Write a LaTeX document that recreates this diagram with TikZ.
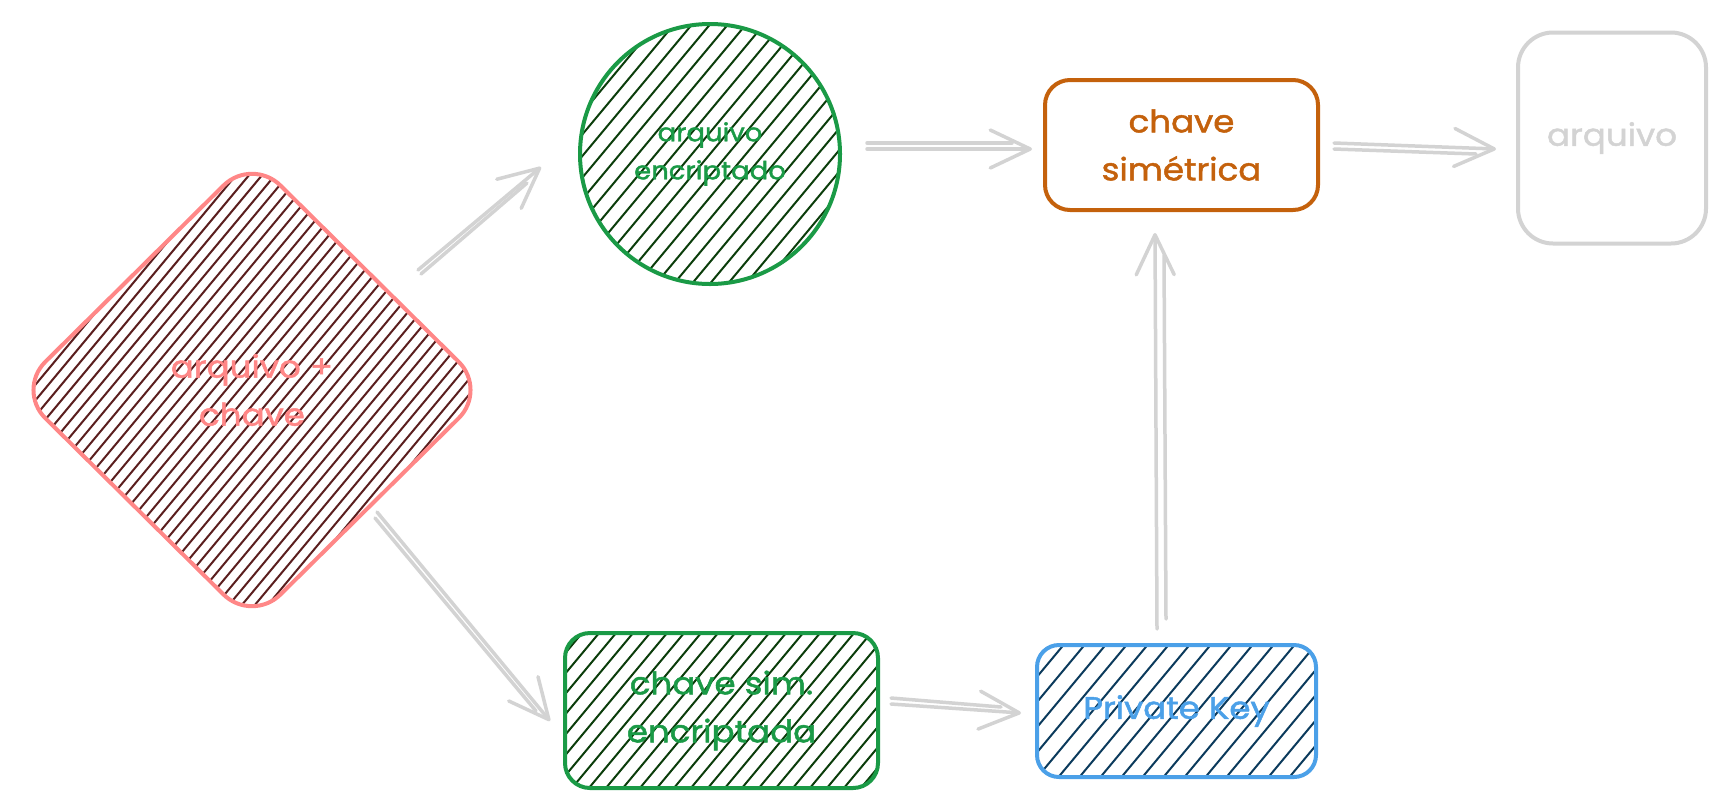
\documentclass[tikz,border=0pt]{standalone}
\usepackage{fontspec}
\newfontfamily\hand[FakeStretch=1.1,FakeBold=1.6]{Poppins}
\usetikzlibrary{arrows.meta,shapes.geometric}
\definecolor{redc}{HTML}{FF8787}
\definecolor{maroon}{HTML}{5A1E1E}
\definecolor{greenc}{HTML}{1A9A46}
\definecolor{dgreen}{HTML}{0B3D0B}
\definecolor{orangec}{HTML}{C4610C}
\definecolor{grayc}{HTML}{D3D3D3}
\definecolor{bluec}{HTML}{4BA0E8}
\definecolor{dblue}{HTML}{0B3A5C}
\begin{document}
\begin{tikzpicture}[x=1pt,y=-1pt,
  hatchfill/.style 2 args={path picture={
    \foreach \k in {-40,...,40}
      \draw[#1,line width=2pt]
        ([shift={(\k*#2-300,360)}]path picture bounding box.center) -- ++(600,-720);}},
  shapebox/.style={line width=4pt, inner sep=0pt, align=center},
  bigtext/.style={font=\hand\fontsize{31}{48}\selectfont},
  smalltext/.style={font=\hand\fontsize{25}{38}\selectfont},
  arr/.style={draw=grayc, line width=3.5pt, line cap=round, line join=round,
    -{Straight Barb[length=40pt,width=38pt,round]}},
  arrb/.style={draw=grayc, line width=3.5pt, line cap=round},
]
\useasboundingbox (0,0) rectangle (1726,807);

% shapes
\node[shapebox, shape=diamond, draw=redc, rounded corners=40pt,
  minimum width=472pt, minimum height=467pt, hatchfill={maroon}{13},
  text=redc, bigtext] (dia) at (252,390) {arquivo +\\chave};
\node[shapebox, circle, draw=greenc, minimum size=260pt,
  hatchfill={dgreen}{18}, text=greenc, smalltext] (circ) at (710,154)
  {arquivo\\encriptado};
\node[shapebox, rectangle, draw=orangec, rounded corners=25pt,
  minimum width=273pt, minimum height=130pt, text=orangec, bigtext]
  (sim) at (1181.5,145) {chave\\simétrica};
\node[shapebox, rectangle, draw=grayc, rounded corners=35pt,
  minimum width=188pt, minimum height=211pt, text=grayc, bigtext]
  (arq) at (1612,138) {arquivo};
\node[shapebox, rectangle, draw=greenc, rounded corners=25pt,
  minimum width=313pt, minimum height=155pt, hatchfill={dgreen}{17},
  text=greenc, bigtext] (enc) at (721.5,710.5) {chave sim.\\encriptada};
\node[shapebox, rectangle, draw=bluec, rounded corners=22pt,
  minimum width=279pt, minimum height=132pt, hatchfill={dblue}{21},
  text=bluec, bigtext] (pk) at (1176.5,711) {Private Key};

% connector end points
\coordinate (a1s) at (418,270); \coordinate (a1e) at (541,167);
\coordinate (a2s) at (377,512); \coordinate (a2e) at (550,721);
\coordinate (a3s) at (867,149); \coordinate (a3e) at (1032,149);
\coordinate (a4s) at (1334,143); \coordinate (a4e) at (1496,149);
\coordinate (a5s) at (891,704); \coordinate (a5e) at (1021,713);
\coordinate (a6s) at (1157,629); \coordinate (a6e) at (1155,233);

% connectors
\draw[arr] (a1s) -- (a1e);
\draw[arrb] ([shift={(3,4)}]a1s) -- ([shift={(-14,16)}]a1e);
\draw[arr] (a2s) -- (a2e);
\draw[arrb] ([shift={(-2,6)}]a2s) -- ([shift={(-14,-10)}]a2e);
\draw[arr] (a3s) -- (a3e);
\draw[arrb] ([shift={(0,-6)}]a3s) -- ([shift={(-20,-6)}]a3e);
\draw[arr] (a4s) -- (a4e);
\draw[arrb] ([shift={(0,6)}]a4s) -- ([shift={(-20,5)}]a4e);
\draw[arr] (a5s) -- (a5e);
\draw[arrb] ([shift={(0,-6)}]a5s) -- ([shift={(-20,-6)}]a5e);
\draw[arr] (a6s) -- (a6e);
\draw[arrb] ([shift={(9,-10)}]a6s) -- ([shift={(9,22)}]a6e);
\end{tikzpicture}
\end{document}
